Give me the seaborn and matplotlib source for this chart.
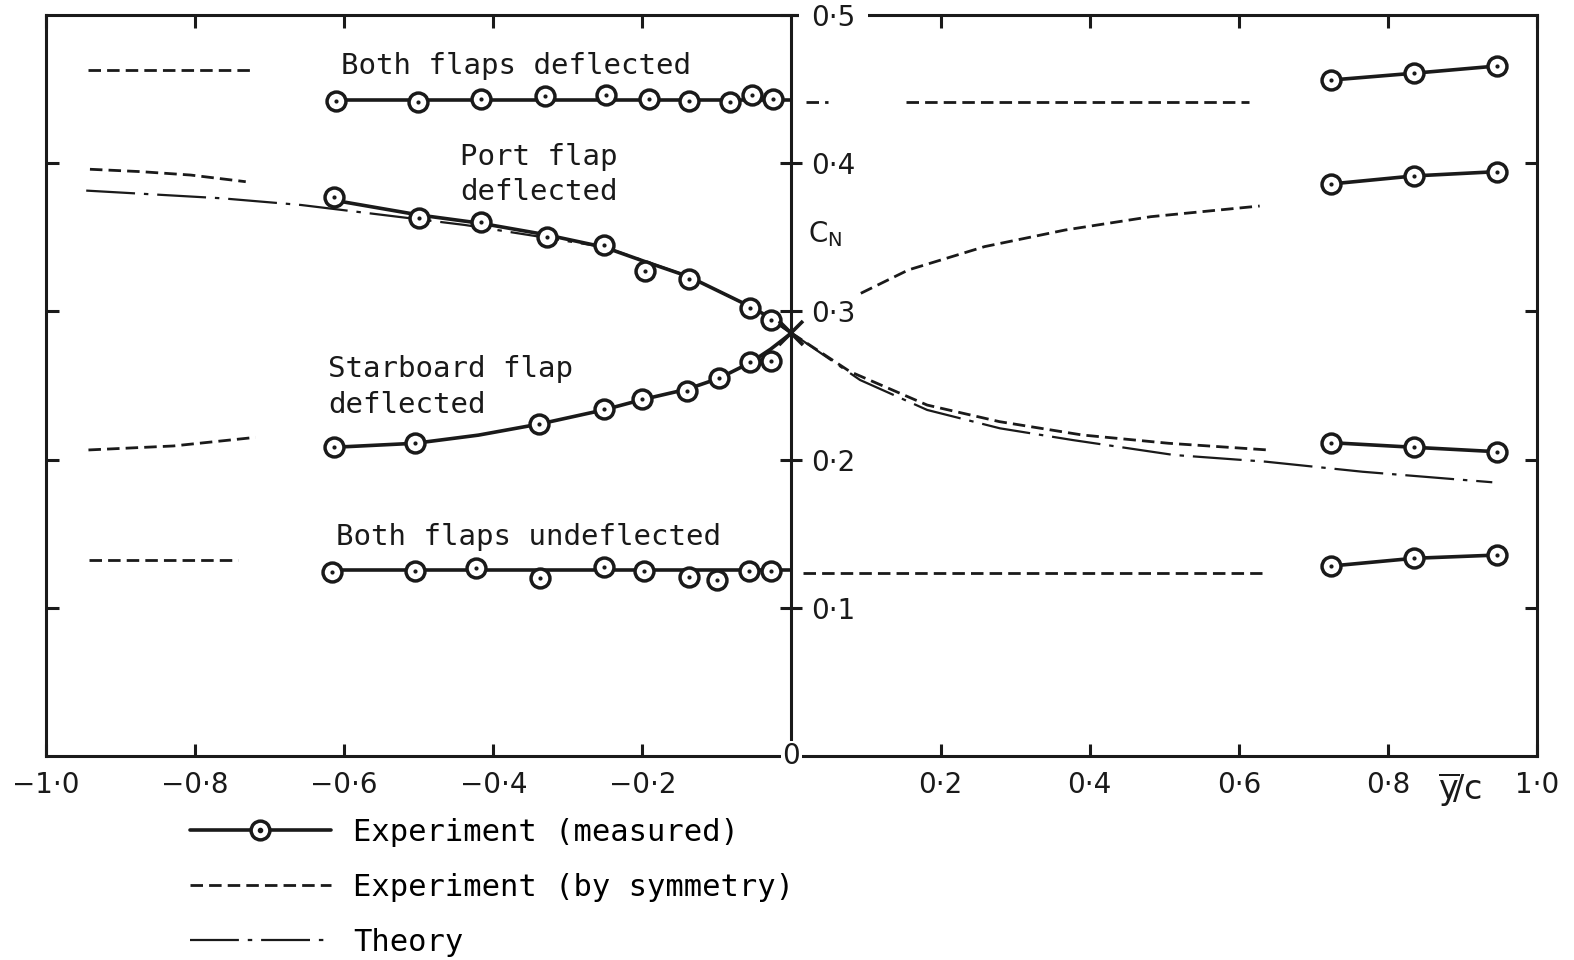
import numpy as np
import matplotlib
matplotlib.use("Agg")
import matplotlib.pyplot as plt
import seaborn as sns
from matplotlib.lines import Line2D
from matplotlib.legend_handler import HandlerTuple

# --- measured points, left half (x = y/c, value = C_N) ---
both_def_x = [-0.611, -0.501, -0.417, -0.331, -0.249, -0.191, -0.137, -0.082, -0.053, -0.025]
both_def_y = [0.442, 0.4415, 0.443, 0.445, 0.446, 0.443, 0.442, 0.441, 0.446, 0.443]
both_def_fair_x = [-0.611, 0.0]
both_def_fair_y = [0.4423, 0.4423]

port_x = [-0.614, -0.499, -0.416, -0.328, -0.251, -0.196, -0.138, -0.055, -0.027]
port_y = [0.377, 0.3628, 0.3601, 0.3504, 0.3446, 0.3275, 0.3219, 0.3021, 0.2942]
port_fair_x = [-0.614, -0.499, -0.416, -0.328, -0.251, -0.196, -0.138, -0.055, -0.027, 0.0]
port_fair_y = [0.375, 0.365, 0.3594, 0.3516, 0.3433, 0.3335, 0.3235, 0.3032, 0.2953, 0.2854]

star_x = [-0.614, -0.505, -0.338, -0.252, -0.200, -0.140, -0.097, -0.055, -0.028]
star_y = [0.2083, 0.211, 0.224, 0.2339, 0.2407, 0.2465, 0.2549, 0.2661, 0.2667]
star_fair_x = [-0.614, -0.505, -0.42, -0.338, -0.252, -0.200, -0.140, -0.097, -0.055, -0.028, 0.0]
star_fair_y = [0.2083, 0.211, 0.2165, 0.224, 0.2335, 0.2405, 0.2475, 0.2549, 0.2655, 0.2745, 0.2854]

undef_x = [-0.616, -0.505, -0.423, -0.337, -0.252, -0.198, -0.138, -0.100, -0.057, -0.027]
undef_y = [0.1244, 0.125, 0.1267, 0.1199, 0.1277, 0.125, 0.1206, 0.1188, 0.125, 0.125]
undef_fair_x = [-0.616, 0.0]
undef_fair_y = [0.1255, 0.1255]

# --- measured points, right half ---
right_x = [0.724, 0.835, 0.947]
right_both_y = [0.4561, 0.4607, 0.4656]
right_port_y = [0.386, 0.3914, 0.3943]
right_star_y = [0.2114, 0.2083, 0.2053]
right_undef_y = [0.1282, 0.1334, 0.1356]

# --- experiment by symmetry (dashed) ---
sym_both_l_x, sym_both_l_y = [-0.943, -0.721], [0.4629, 0.4629]
sym_port_l_x = [-0.941, -0.873, -0.806, -0.732]
sym_port_l_y = [0.3959, 0.3943, 0.392, 0.3875]
sym_star_l_x = [-0.943, -0.829, -0.719]
sym_star_l_y = [0.2065, 0.2092, 0.215]
sym_undef_l_x, sym_undef_l_y = [-0.942, -0.743], [0.1323, 0.1323]

sym_both_r1_x, sym_both_r1_y = [0.019, 0.049], [0.4415, 0.4415]
sym_both_r2_x, sym_both_r2_y = [0.154, 0.614], [0.4415, 0.4415]
sym_upper_r_x = [0.093, 0.157, 0.259, 0.367, 0.482, 0.628]
sym_upper_r_y = [0.3122, 0.328, 0.3437, 0.3549, 0.3639, 0.3711]
sym_lower_r_x = [0.0, 0.0787, 0.182, 0.279, 0.390, 0.506, 0.639]
sym_lower_r_y = [0.2854, 0.2593, 0.2368, 0.2256, 0.2166, 0.211, 0.2065]
sym_undef_r_x, sym_undef_r_y = [0.015, 0.631], [0.1237, 0.1237]

# --- theory (dash-dot) ---
theory_l_x = [-0.946, -0.764, -0.658, -0.537, -0.438, -0.353, -0.25, -0.14, -0.055, 0.0]
theory_l_y = [0.3815, 0.3763, 0.3718, 0.3644, 0.3583, 0.3516, 0.3433, 0.324, 0.3032, 0.2854]
theory_r_x = [0.0, 0.092, 0.182, 0.2796, 0.377, 0.513, 0.636, 0.766, 0.94]
theory_r_y = [0.2854, 0.2537, 0.2335, 0.2211, 0.2132, 0.2031, 0.1986, 0.1918, 0.1847]

cross_x, cross_y = [0.0], [0.2854]

x_ticks = [-1.0, -0.8, -0.6, -0.4, -0.2, 0.2, 0.4, 0.6, 0.8, 1.0]
x_tick_labels = ["−1·0", "−0·8", "−0·6", "−0·4", "−0·2", "0·2", "0·4", "0·6", "0·8", "1·0"]
y_ticks = [0.1, 0.2, 0.3, 0.4, 0.5]
y_tick_labels = ["0·1", "0·2", "0·3", "0·4", "0·5"]

sns.set_theme(style="white")
plt.rcParams['font.family'] = ['DejaVu Sans']
plt.rcParams['text.color'] = 'black'
plt.rcParams['xtick.color'] = 'black'
plt.rcParams['ytick.color'] = 'black'
plt.rcParams['axes.edgecolor'] = 'black'

LW = 2.6      # measured
LW_D = 2.0    # by symmetry
LW_T = 1.6    # theory
DASHED = (0, (4.5, 2.2))
DASHDOT = (0, (22, 4, 2, 4))
FS = 20
MONO = 'DejaVu Sans Mono'   # lettering-like labels
FS_M = 21

fig = plt.figure(figsize=(15.74, 9.6), dpi=100)
ax = fig.add_axes([0.0292, 0.2125, 0.9473, 0.7719])


def measured(x, y, fx=None, fy=None):
    if fx is None:
        fx, fy = x, y
    sns.lineplot(x=fx, y=fy, ax=ax, color='k', lw=LW, sort=False, estimator=None, zorder=3)
    sns.scatterplot(x=x, y=y, ax=ax, s=185, color='white', edgecolor='k', linewidth=2.5, zorder=4)
    sns.scatterplot(x=x, y=y, ax=ax, s=9, color='k', linewidth=0, zorder=5)


def dashed(x, y, style=DASHED, lw=LW_D):
    sns.lineplot(x=x, y=y, ax=ax, color='k', lw=lw, linestyle=style, sort=False, estimator=None, zorder=2)


# theory
dashed(theory_l_x, theory_l_y, DASHDOT, LW_T)
dashed(theory_r_x, theory_r_y, DASHDOT, LW_T)

# by symmetry
for sx, sy in [(sym_both_l_x, sym_both_l_y), (sym_port_l_x, sym_port_l_y),
               (sym_star_l_x, sym_star_l_y), (sym_undef_l_x, sym_undef_l_y),
               (sym_both_r1_x, sym_both_r1_y), (sym_both_r2_x, sym_both_r2_y),
               (sym_upper_r_x, sym_upper_r_y), (sym_lower_r_x, sym_lower_r_y),
               (sym_undef_r_x, sym_undef_r_y)]:
    dashed(sx, sy)

# measured
measured(both_def_x, both_def_y, both_def_fair_x, both_def_fair_y)
measured(port_x, port_y, port_fair_x, port_fair_y)
measured(star_x, star_y, star_fair_x, star_fair_y)
measured(undef_x, undef_y, undef_fair_x, undef_fair_y)
for ry in [right_both_y, right_port_y, right_star_y, right_undef_y]:
    measured(right_x, ry)

ax.plot(cross_x, cross_y, marker='x', ms=17, mew=2.6, color='k', ls='none', zorder=6)

# axes, frame and ticks
ax.set_xlim(-1, 1)
ax.set_ylim(0, 0.5)
ax.set_xlabel("")
ax.set_ylabel("")
for sp in ax.spines.values():
    sp.set_color('k')
    sp.set_linewidth(2.2)
ax.set_xticks(x_ticks)
ax.set_xticklabels(x_tick_labels, fontsize=FS)
ax.set_yticks(y_ticks[:-1])
ax.tick_params(axis='both', direction='in', length=9, width=2.2, colors='k',
               top=True, bottom=True, left=True, right=True, labelleft=False, pad=11)

# central C_N axis
ax.axvline(0, color='k', lw=2.2, zorder=1)
ax.plot([0] * len(y_ticks), y_ticks, marker='_', ms=16, mew=2.2, color='k', ls='none',
        zorder=1, clip_on=False)
for yv, lab in zip(y_ticks, y_tick_labels):
    bb = dict(fc='white', ec='none', pad=9) if yv == 0.5 else None
    ax.text(0.027, yv - 0.002, lab, fontsize=FS, ha='left', va='center', color='k', bbox=bb, zorder=7)
ax.text(0.0, 0.0, "0", fontsize=FS, ha='center', va='center', color='k',
        bbox=dict(fc='white', ec='none', pad=1), zorder=7, clip_on=False)
ax.text(0.022, 0.352, r"C$_\mathregular{N}$", fontsize=FS, ha='left', va='center', color='k')
ax.text(0.897, -0.022, r"$\overline{\mathregular{y}}\!/\mathregular{c}$", fontsize=FS + 4,
        ha='center', va='center', color='k', clip_on=False)

# curve annotations
ann = dict(fontsize=FS_M, family=MONO, ha='left', va='center', color='k')
ax.text(-0.604, 0.4656, "Both flaps deflected", **ann)
ax.text(-0.444, 0.404, "Port flap", **ann)
ax.text(-0.444, 0.3806, "deflected", **ann)
ax.text(-0.622, 0.2611, "Starboard flap", **ann)
ax.text(-0.622, 0.2368, "deflected", **ann)
ax.text(-0.611, 0.1478, "Both flaps undeflected", **ann)

# legend
h_meas = (Line2D([], [], color='k', lw=LW, marker='o', ms=13.5, mfc='white', mec='k', mew=2.5),
          Line2D([], [], ls='none', marker='o', ms=3, color='k'))
h_sym = Line2D([], [], color='k', lw=LW_D, ls=DASHED)
h_th = Line2D([], [], color='k', lw=LW_T, ls=DASHDOT)
fig.legend([h_meas, h_sym, h_th],
           ["Experiment (measured)", "Experiment (by symmetry)", "Theory"],
           handler_map={tuple: HandlerTuple(ndivide=1)},
           loc='upper left', bbox_to_anchor=(190 / 1574, 1 - 818 / 960),
           frameon=False, prop={'family': MONO, 'size': FS_M + 1},
           handlelength=4.6, handletextpad=0.75,
           labelspacing=0.85, borderpad=0, borderaxespad=0)

fig.savefig("out.png", dpi=100, facecolor='white')
